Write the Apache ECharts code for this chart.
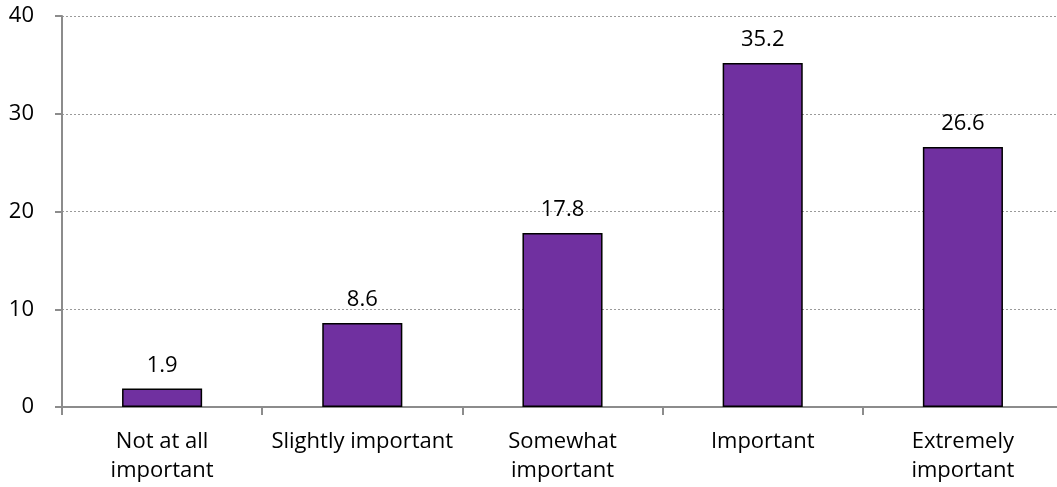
<!DOCTYPE html>
<html>
<head>
<meta charset="utf-8">
<script src="https://cdn.jsdelivr.net/npm/echarts@6/dist/echarts.min.js"></script>
<style>
html, body { margin: 0; padding: 0; background: #fff; }
#chart { width: 1057px; height: 487px; }
</style>
</head>
<body>
<div id="chart"></div>
<script>
var categories = ['Not at all\nimportant', 'Slightly important', 'Somewhat\nimportant', 'Important', 'Extremely\nimportant'];
var values = [1.9, 8.6, 17.8, 35.2, 26.6];

var myChart = echarts.init(document.getElementById('chart'));
var font = '"Open Sans", "Liberation Sans", sans-serif';

var option = {
    animation: false,
    grid: {
        left: 62,
        top: 16,
        width: 1001,
        height: 391,
        outerBoundsMode: 'none'
    },
    xAxis: {
        type: 'category',
        data: categories,
        axisLine: { lineStyle: { color: '#8c8c8c', width: 2 } },
        axisTick: { show: true, length: 8, lineStyle: { color: '#8c8c8c', width: 2 } },
        axisLabel: {
            color: '#000',
            fontFamily: font,
            fontSize: 22,
            lineHeight: 29,
            margin: 20,
            interval: 0
        }
    },
    yAxis: {
        type: 'value',
        min: 0,
        max: 40,
        interval: 10,
        axisLine: { show: true, lineStyle: { color: '#8c8c8c', width: 2 } },
        axisTick: { show: true, length: 7, lineStyle: { color: '#8c8c8c', width: 2 } },
        axisLabel: {
            color: '#000',
            fontFamily: font,
            fontSize: 22,
            margin: 28
        },
        splitLine: { lineStyle: { color: '#9a9a9a', type: [2, 2], width: 1 } }
    },
    series: [{
        type: 'bar',
        data: values,
        barWidth: '40%',
        itemStyle: {
            color: '#7030a0',
            borderColor: '#000',
            borderWidth: 1.5
        },
        label: {
            show: true,
            position: 'top',
            distance: 12,
            color: '#000',
            fontFamily: font,
            fontSize: 22
        }
    }]
};

myChart.setOption(option);
</script>
</body>
</html>
